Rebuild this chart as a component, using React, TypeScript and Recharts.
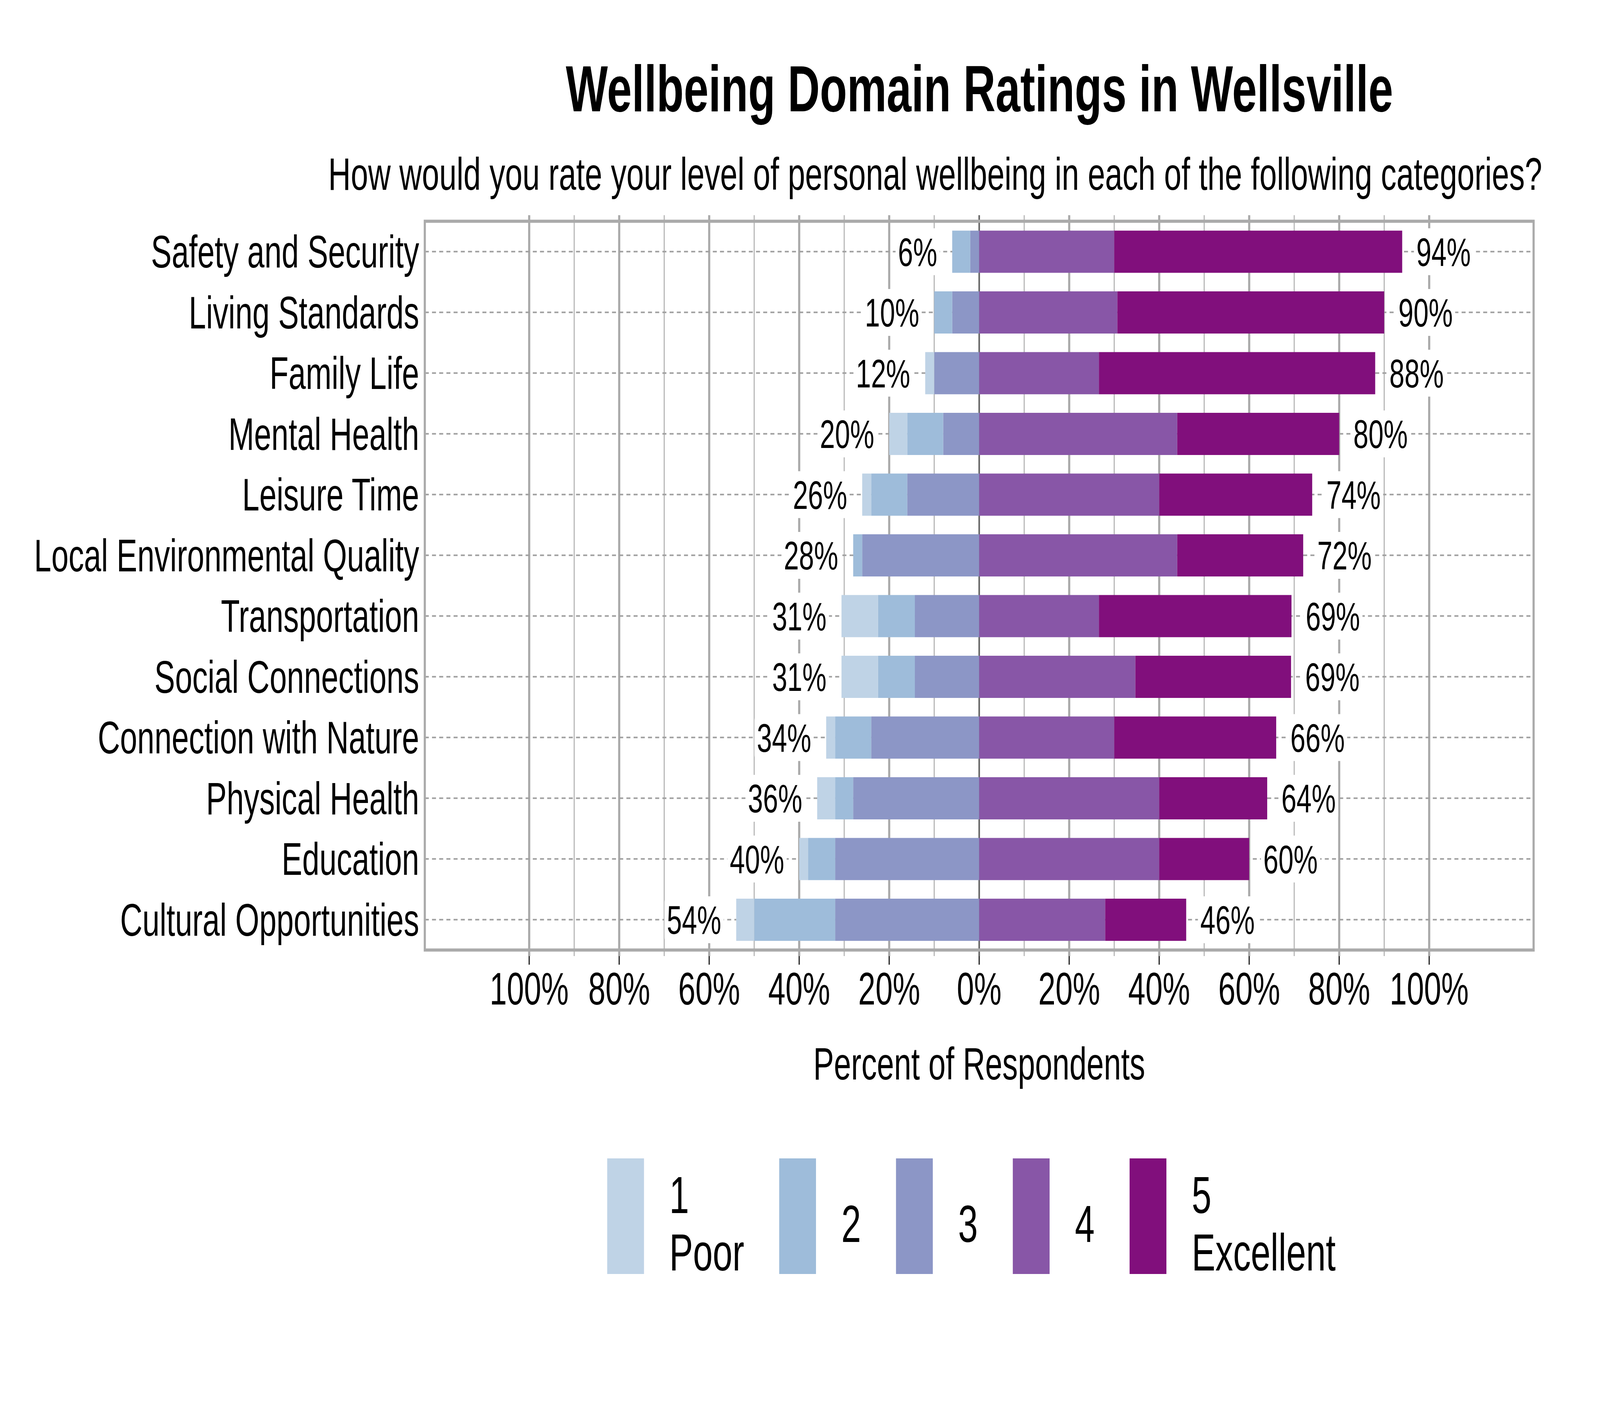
import {
  Bar,
  BarChart,
  CartesianGrid,
  LabelList,
  ReferenceArea,
  XAxis,
  YAxis,
} from "recharts";

const FONT = "'Liberation Sans', Arial, Helvetica, sans-serif";
const W = 6000;
const H = 3600;

const categories = [
  "Safety and Security",
  "Living Standards",
  "Family Life",
  "Mental Health",
  "Leisure Time",
  "Local Environmental Quality",
  "Transportation",
  "Social Connections",
  "Connection with Nature",
  "Physical Health",
  "Education",
  "Cultural Opportunities",
];

// percent of respondents per rating
const poor = [0, 0, 2, 4, 2, 0, 8.1, 8.1, 2, 4, 2, 4];
const fair = [4, 4, 0, 8, 8, 2, 8.2, 8.2, 8, 4, 6, 18];
const neutral = [2, 6, 10, 8, 16, 26, 14.3, 14.3, 24, 28, 32, 32];
const good = [30, 30.7, 26.6, 44, 40, 44, 26.6, 34.7, 30, 40, 40, 28];
const excellent = [64, 59.3, 61.4, 36, 34, 28, 42.8, 34.6, 36, 24, 20, 18];

const xTicks = [-100, -80, -60, -40, -20, 0, 20, 40, 60, 80, 100];
const majorGrid = [-100, -80, -60, -40, -20, 20, 40, 60, 80, 100];
const minorGrid = [-90, -70, -50, -30, -10, 10, 30, 50, 70, 90];

const legendLabels = ["1\nPoor", "2", "3", "4", "5\nExcellent"];
const colors = ["#bfd3e6", "#9ebcda", "#8c96c6", "#8856a7", "#810f7c"];

const negTotals = categories.map((_, i) => poor[i] + fair[i] + neutral[i]);
const posTotals = categories.map((_, i) => good[i] + excellent[i]);

const rows = categories.map((name, i) => ({
  name,
  n3: -neutral[i],
  n2: -fair[i],
  n1: -poor[i],
  q4: good[i],
  q5: excellent[i],
}));

const toPx = (axis: any, v: any) => {
  const s = axis?.scale;
  if (!s) return NaN;
  if (typeof s === "function") return s(v);
  if (typeof s.map === "function") return s.map(v);
  if (typeof s.apply === "function") return s.apply(v);
  return NaN;
};

const bandOf = (axis: any) => {
  const s = axis?.scale;
  return s && typeof s.bandwidth === "function" ? s.bandwidth() : 0;
};

const xLines = (vals: number[]) => ({ xAxis }: any) =>
  vals.map((v) => toPx(xAxis, v));

const rowLines = ({ yAxis }: any) =>
  categories.map((c) => toPx(yAxis, c) + bandOf(yAxis) / 2);

function totalLabel(side: "neg" | "pos") {
  return (props: any) => {
    const vb = props.viewBox || props;
    const i = props.index;
    if (i == null || !vb) return null;
    const x = Number(vb.x);
    const w = Number(vb.width);
    const y = Number(vb.y);
    const h = Number(vb.height);
    const lo = Math.min(x, x + w);
    const hi = Math.max(x, x + w);
    const inner = side === "neg" ? neutral[i] : good[i];
    const total = side === "neg" ? negTotals[i] : posTotals[i];
    const perUnit = (hi - lo) / inner;
    const cy = y + h / 2;
    const text = `${Math.round(total)}%`;
    const fs = 102;
    const tw = (text.length - 1) * 0.556 * fs + 0.889 * fs;
    const tx =
      side === "neg" ? hi - total * perUnit - 56 : lo + total * perUnit + 53;
    const left = side === "neg" ? tx - tw : tx;
    return (
      <g key={`${side}-${i}`}>
        <rect x={left - 9} y={cy - 60} width={tw + 18} height={120} rx={16} fill="#ffffff" />
        <text
          x={tx}
          y={cy}
          dy="0.355em"
          textAnchor={side === "neg" ? "end" : "start"}
          fontSize={fs}
          fontFamily={FONT}
          fill="#000000"
        >
          {text}
        </text>
      </g>
    );
  };
}

export default function App() {
  // the browser window may be narrower than the 6000px canvas: squeeze to fit
  const vw = typeof window !== "undefined" ? window.innerWidth : W;
  const sx = Math.min(1, vw / W);
  return (
    <div
      style={{
        position: "relative",
        width: W * sx,
        height: H,
        margin: -8,
        overflow: "hidden",
        background: "#ffffff",
      }}
    >
      <div
        style={{
          position: "absolute",
          left: 0,
          top: 0,
          width: W,
          height: H,
          transform: `scale(${sx}, 1)`,
          transformOrigin: "0 0",
          fontFamily: FONT,
        }}
      >
        <BarChart
          width={W}
          height={H}
          data={rows}
          layout="vertical"
          stackOffset="sign"
          barSize={108}
          margin={{ top: 551, right: 249, bottom: 836, left: 0 }}
        >
          <CartesianGrid
            horizontal={false}
            verticalCoordinatesGenerator={xLines(minorGrid)}
            stroke="#b3b3b3"
            strokeWidth={4}
          />
          <CartesianGrid
            horizontal={false}
            verticalCoordinatesGenerator={xLines(majorGrid)}
            stroke="#aaaaaa"
            strokeWidth={8}
          />
          <CartesianGrid
            vertical={false}
            horizontalCoordinatesGenerator={rowLines}
            stroke="#a0a0a0"
            strokeWidth={4}
            strokeDasharray="15 12"
          />
          <CartesianGrid
            horizontal={false}
            verticalCoordinatesGenerator={xLines([0])}
            stroke="#666666"
            strokeWidth={6}
          />
          <XAxis
            type="number"
            domain={[-123.2, 123.2]}
            allowDataOverflow
            ticks={xTicks}
            interval={0}
            tickFormatter={(v) => `${Math.abs(v)}%`}
            axisLine={false}
            tickLine={{ stroke: "#333333", strokeWidth: 5 }}
            tickSize={22}
            tickMargin={20}
            tick={{ fill: "#000000", fontSize: 116, fontFamily: FONT }}
            height={316}
            label={{
              value: "Percent of Respondents",
              position: "insideBottom",
              offset: 0,
              fill: "#000000",
              fontSize: 116,
              fontFamily: FONT,
            }}
          />
          <YAxis
            type="category"
            dataKey="name"
            width={1593}
            interval={0}
            axisLine={false}
            tickLine={false}
            tickSize={0}
            tickMargin={21}
            padding={{ top: 15.5, bottom: 15.5 }}
            tick={{ fill: "#000000", fontSize: 116, fontFamily: FONT }}
          />
          <Bar dataKey="n3" stackId="r" fill={colors[2]} isAnimationActive={false}>
            <LabelList content={totalLabel("neg")} />
          </Bar>
          <Bar dataKey="n2" stackId="r" fill={colors[1]} isAnimationActive={false} />
          <Bar dataKey="n1" stackId="r" fill={colors[0]} isAnimationActive={false} />
          <Bar dataKey="q4" stackId="r" fill={colors[3]} isAnimationActive={false}>
            <LabelList content={totalLabel("pos")} />
          </Bar>
          <Bar dataKey="q5" stackId="r" fill={colors[4]} isAnimationActive={false} />
          <ReferenceArea
            x1={-123.2}
            x2={123.2}
            fill="none"
            stroke="#aaaaaa"
            strokeWidth={8}
            ifOverflow="visible"
          />
        </BarChart>

        <svg
          width={W}
          height={H}
          style={{ position: "absolute", left: 0, top: 0, pointerEvents: "none" }}
        >
          <text
            x={3673}
            y={285}
            textAnchor="middle"
            fontSize={167}
            fontWeight="bold"
            fontFamily={FONT}
            fill="#000000"
          >
            Wellbeing Domain Ratings in Wellsville
          </text>
          <text
            x={3507}
            y={486}
            textAnchor="middle"
            fontSize={117}
            fontFamily={FONT}
            fill="#000000"
          >
            How would you rate your level of personal wellbeing in each of the following categories?
          </text>
        </svg>

        <div
          style={{
            position: "absolute",
            left: 2277,
            top: 2966,
            display: "flex",
            alignItems: "center",
            fontFamily: FONT,
            color: "#000000",
          }}
        >
          {legendLabels.map((lab, i) => (
            <div
              key={lab}
              style={{ display: "flex", alignItems: "center", marginRight: 131 }}
            >
              <div style={{ width: 138, height: 296, background: colors[i] }} />
              <div
                style={{
                  marginLeft: 95,
                  fontSize: 133,
                  lineHeight: "147px",
                  whiteSpace: "pre-line",
                  position: "relative",
                  top: 20,
                }}
              >
                {lab}
              </div>
            </div>
          ))}
        </div>
      </div>
    </div>
  );
}
